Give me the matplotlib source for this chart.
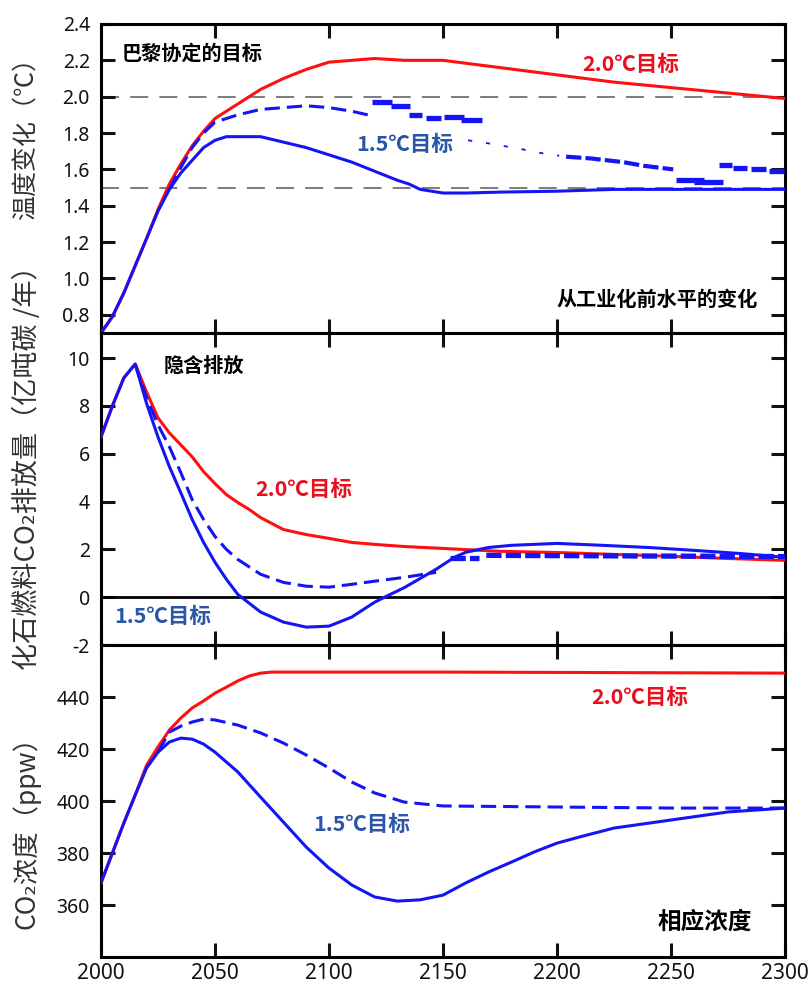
import matplotlib

matplotlib.use("Agg")
import matplotlib.pyplot as plt  # noqa: E402

plt.rcParams["lines.scale_dashes"] = False
plt.rcParams["font.family"] = ["Noto Sans", "DejaVu Sans"]

CJK = ["Noto Sans CJK SC", "DejaVu Sans"]
RED = "#ff1010"
BLUE = "#1414f5"
TXT_RED = "#e8101c"
TXT_BLUE = "#2a56a8"

# --- temperatura (pannello alto) ---
temp_red_years = [2000, 2005, 2010, 2015, 2020, 2025, 2030, 2035, 2040, 2045, 2050, 2055,
                  2060, 2070, 2080, 2090, 2100, 2110, 2120, 2133, 2150, 2175, 2200, 2225,
                  2250, 2275, 2300]
temp_red = [0.70, 0.79, 0.92, 1.07, 1.22, 1.38, 1.52, 1.63, 1.73, 1.81, 1.88, 1.92,
            1.96, 2.04, 2.10, 2.15, 2.19, 2.20, 2.21, 2.20, 2.20, 2.16, 2.12, 2.08,
            2.05, 2.02, 1.99]

temp_blue_years = [2000, 2005, 2010, 2015, 2020, 2025, 2030, 2035, 2040, 2045, 2050, 2055,
                   2060, 2070, 2080, 2090, 2100, 2110, 2120, 2130, 2135, 2140, 2150, 2160,
                   2175, 2200, 2225, 2250, 2275, 2300]
temp_blue = [0.70, 0.79, 0.92, 1.07, 1.22, 1.37, 1.49, 1.58, 1.65, 1.72, 1.76, 1.78,
             1.78, 1.78, 1.75, 1.72, 1.68, 1.64, 1.59, 1.54, 1.52, 1.49, 1.47, 1.47,
             1.475, 1.48, 1.49, 1.49, 1.49, 1.49]

temp_dash_years = [2030, 2035, 2040, 2045, 2050, 2060, 2070, 2080, 2090, 2100, 2110, 2117]
temp_dash = [1.49, 1.61, 1.72, 1.80, 1.86, 1.90, 1.93, 1.94, 1.95, 1.94, 1.92, 1.90]

temp_dot_years = [2161, 2169, 2176, 2185, 2193, 2201]
temp_dot = [1.76, 1.745, 1.73, 1.71, 1.69, 1.675]

temp_mid_years = [2204, 2215, 2229, 2238, 2251]
temp_mid = [1.67, 1.66, 1.64, 1.62, 1.60]

step_start = [2119, 2127, 2135, 2142.5, 2150.5, 2158, 2252, 2260, 2271, 2277, 2285, 2293]
step_end = [2127.5, 2135.5, 2141, 2149, 2159, 2167, 2264.5, 2273, 2276.8, 2283.3, 2291.7,
            2299.6]
step_level = [1.97, 1.95, 1.90, 1.88, 1.89, 1.87, 1.543, 1.53, 1.625, 1.61, 1.60, 1.59]

paris_levels = [2.0, 1.5]

# --- emissioni (pannello centrale) ---
emis_red_years = [2000, 2005, 2010, 2015, 2020, 2025, 2030, 2035, 2040, 2045, 2050, 2055,
                  2060, 2065, 2070, 2080, 2090, 2100, 2110, 2120, 2133, 2150, 2175, 2200,
                  2225, 2250, 2275, 2300]
emis_red = [6.7, 8.0, 9.17, 9.75, 8.58, 7.5, 6.87, 6.37, 5.87, 5.25, 4.75, 4.29,
            3.96, 3.67, 3.33, 2.83, 2.62, 2.46, 2.29, 2.21, 2.12, 2.04, 1.92, 1.87,
            1.79, 1.71, 1.62, 1.54]

emis_blue_years = [2000, 2005, 2010, 2015, 2020, 2025, 2030, 2035, 2040, 2045, 2050, 2055,
                   2060, 2070, 2080, 2090, 2100, 2110, 2120, 2125, 2133, 2147, 2155, 2160,
                   2170, 2180, 2200, 2220, 2240, 2260, 2280, 2300]
emis_blue = [6.7, 8.0, 9.17, 9.75, 8.1, 6.7, 5.46, 4.37, 3.25, 2.29, 1.46, 0.75,
             0.12, -0.62, -1.04, -1.25, -1.21, -0.83, -0.21, 0.03, 0.4, 1.17, 1.67, 1.88,
             2.08, 2.17, 2.25, 2.17, 2.08, 1.96, 1.83, 1.67]

emis_dash_years = [2015, 2020, 2025, 2030, 2035, 2040, 2045, 2050, 2055, 2060, 2070, 2080,
                   2090, 2100, 2110, 2120, 2133, 2147]
emis_dash = [9.75, 8.33, 7.21, 6.29, 5.21, 4.08, 3.25, 2.54, 2.0, 1.58, 0.96, 0.62,
             0.46, 0.42, 0.54, 0.67, 0.83, 1.04]

emis_thick_a_years = [2153, 2166]
emis_thick_a = [1.63, 1.63]
emis_thick_b_years = [2169, 2300]
emis_thick_b = [1.75, 1.70]

# --- concentrazione CO2 (pannello basso) ---
co2_red_years = [2000, 2005, 2010, 2015, 2020, 2025, 2030, 2035, 2040, 2045, 2050, 2055,
                 2060, 2065, 2070, 2075, 2150, 2300]
co2_red = [368.5, 380, 391.5, 402.3, 413.8, 420.8, 427.3, 431.9, 435.8, 438.5, 441.5,
           443.8, 446.2, 448.1, 449.2, 449.6, 449.6, 449.2]

co2_blue_years = [2000, 2005, 2010, 2015, 2020, 2025, 2030, 2035, 2040, 2045, 2050, 2060,
                  2070, 2080, 2090, 2100, 2110, 2120, 2130, 2140, 2150, 2160, 2170, 2180,
                  2190, 2200, 2210, 2225, 2250, 2275, 2300]
co2_blue = [368.5, 380, 391.5, 402.3, 412.7, 418.8, 422.7, 424.2, 423.8, 421.9, 418.8,
            411.2, 401.5, 391.9, 382.3, 374.2, 367.7, 363.1, 361.5, 362.0, 363.8, 368.5,
            372.7, 376.5, 380.4, 383.8, 386.2, 389.6, 392.7, 395.8, 397.3]

co2_dash_years = [2025, 2030, 2035, 2040, 2045, 2050, 2060, 2070, 2080, 2090, 2100, 2110,
                  2120, 2133, 2150, 2200, 2250, 2300]
co2_dash = [418.8, 426.5, 428.8, 430.4, 431.5, 431.2, 429.2, 426.2, 422.3, 417.7, 412.7,
            407.3, 403.1, 399.6, 398.1, 397.7, 397.3, 397.3]

x_ticks = [2000, 2050, 2100, 2150, 2200, 2250, 2300]
temp_ticks = [0.8, 1.0, 1.2, 1.4, 1.6, 1.8, 2.0, 2.2, 2.4]
emis_ticks = [-2, 0, 2, 4, 6, 8, 10]
co2_ticks = [360, 380, 400, 420, 440]


def _style(ax, yticks, ylim, fmt):
    ax.set_xlim(2000, 2300)
    ax.set_ylim(*ylim)
    ax.set_xticks(x_ticks)
    ax.set_yticks(yticks)
    ax.set_yticklabels([fmt.format(v) for v in yticks])
    ax.tick_params(direction="in", length=10, width=2.2, top=True, right=True,
                   labelsize=14, colors="#111", pad=8)
    ax.tick_params(axis="x", labelbottom=False, pad=4)
    for s in ax.spines.values():
        s.set_linewidth(2.2)


fig = plt.figure(figsize=(8.08, 9.91), dpi=100)
ax_t = fig.add_axes([0.125, 0.664, 0.8465, 0.3118])
ax_m = fig.add_axes([0.125, 0.3491, 0.8465, 0.3149])
ax_b = fig.add_axes([0.125, 0.0343, 0.8465, 0.3148])

# pannello alto
for lvl in paris_levels:
    ax_t.axhline(lvl, color="#666", lw=1.2, dashes=(13, 8), zorder=1)
ax_t.plot(temp_red_years, temp_red, color=RED, lw=2.2, zorder=3)
ax_t.plot(temp_blue_years, temp_blue, color=BLUE, lw=2.2, zorder=4)
ax_t.plot(temp_dash_years, temp_dash, color=BLUE, lw=2.2, dashes=(11, 5), zorder=4)
ax_t.plot(temp_dot_years, temp_dot, color=BLUE, lw=1.3, dashes=(3, 10), zorder=4)
ax_t.plot(temp_mid_years, temp_mid, color=BLUE, lw=3.0, dashes=(11, 3), zorder=4)
ax_t.hlines(step_level, step_start, step_end, color=BLUE, lw=3.8, zorder=4)
_style(ax_t, temp_ticks, (0.7, 2.4), "{:.1f}")
ax_t.text(2009, 2.24, "巴黎协定的目标", family=CJK, fontsize=14.5, fontweight="bold",
          va="center")
ax_t.text(2211, 2.175, "2.0℃目标", family=CJK, fontsize=15.5, fontweight="bold",
          color=TXT_RED, va="center")
ax_t.text(2112, 1.735, "1.5℃目标", family=CJK, fontsize=15.5, fontweight="bold",
          color=TXT_BLUE, va="center")
ax_t.text(2288, 0.883, "从工业化前水平的变化", family=CJK, fontsize=14.5,
          fontweight="bold", ha="right", va="center")

# pannello centrale
ax_m.axhline(0, color="black", lw=2.0, zorder=2)
ax_m.plot(emis_red_years, emis_red, color=RED, lw=2.2, zorder=3)
ax_m.plot(emis_blue_years, emis_blue, color=BLUE, lw=2.2, zorder=4)
ax_m.plot(emis_dash_years, emis_dash, color=BLUE, lw=2.2, dashes=(11, 5), zorder=4)
ax_m.plot(emis_thick_a_years, emis_thick_a, color=BLUE, lw=3.8, dashes=(11, 3), zorder=5)
ax_m.plot(emis_thick_b_years, emis_thick_b, color=BLUE, lw=3.8, dashes=(11, 3), zorder=5)
_style(ax_m, emis_ticks, (-2, 11.05), "{:d}")
ax_m.text(2027.5, 9.71, "隐含排放", family=CJK, fontsize=14.5, fontweight="bold",
          va="center")
ax_m.text(2067.5, 4.5, "2.0℃目标", family=CJK, fontsize=15.5, fontweight="bold",
          color=TXT_RED, va="center")
ax_m.text(2006, -0.79, "1.5℃目标", family=CJK, fontsize=15.5, fontweight="bold",
          color=TXT_BLUE, va="center")

# pannello basso
ax_b.plot(co2_red_years, co2_red, color=RED, lw=2.2, zorder=3)
ax_b.plot(co2_blue_years, co2_blue, color=BLUE, lw=2.2, zorder=4)
ax_b.plot(co2_dash_years, co2_dash, color=BLUE, lw=2.2, dashes=(11, 5), zorder=4)
_style(ax_b, co2_ticks, (340, 460), "{:d}")
ax_b.tick_params(axis="x", labelbottom=True, labelsize=15)
ax_b.text(2215, 440, "2.0℃目标", family=CJK, fontsize=15.5, fontweight="bold",
          color=TXT_RED, va="center")
ax_b.text(2093, 390.8, "1.5℃目标", family=CJK, fontsize=15.5, fontweight="bold",
          color=TXT_BLUE, va="center")
ax_b.text(2244, 353.5, "相应浓度", family=CJK, fontsize=17, fontweight="bold",
          va="center")

# etichette asse y (a cavallo dei pannelli, come nell'originale)
ylabel_kw = dict(family=CJK, color="#333", rotation=90, ha="center", va="center")
fig.text(0.033, 0.866, "温度变化（℃）", fontsize=18, **ylabel_kw)
fig.text(0.033, 0.535, "化石燃料CO₂排放量（亿吨碳 /年）", fontsize=19.5, **ylabel_kw)
fig.text(0.033, 0.166, "CO₂浓度（ppw）", fontsize=19, **ylabel_kw)

fig.savefig("out.png", dpi=100)
